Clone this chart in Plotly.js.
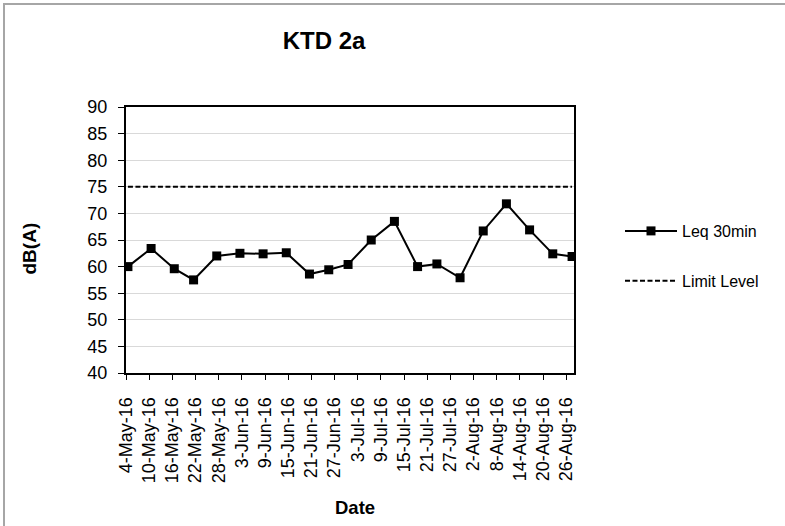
<!DOCTYPE html>
<html>
<head>
<meta charset="utf-8">
<script src="https://cdn.plot.ly/plotly-3.0.1.min.js"></script>
<style>
  html, body { margin: 0; padding: 0; background: #fff; overflow: hidden; }
  #wrap { position: relative; width: 785px; height: 526px; overflow: hidden; }
  #chart { position: absolute; left: 0; top: 0; width: 785px; height: 526px; }
  #frame { position: absolute; left: 3px; top: 3px; width: 900px; height: 700px;
           border-left: 2px solid #a6a6a6; border-top: 2px solid #a6a6a6; pointer-events: none; }
</style>
</head>
<body>
<div id="wrap">
  <div id="chart"></div>
  <div id="frame"></div>
</div>
<script>
// ---- data ----
const chartTitle = 'KTD 2a';
const xTitle = 'Date';
const yTitle = 'dB(A)';
const dates = [
  '2016-05-04', '2016-05-10', '2016-05-16', '2016-05-21', '2016-05-27',
  '2016-06-02', '2016-06-08', '2016-06-14', '2016-06-20', '2016-06-25',
  '2016-06-30', '2016-07-06', '2016-07-12', '2016-07-18', '2016-07-23',
  '2016-07-29', '2016-08-04', '2016-08-10', '2016-08-16', '2016-08-22',
  '2016-08-27'
];
const leq30min = [
  60.0, 63.4, 59.6, 57.5, 62.0,
  62.5, 62.4, 62.6, 58.6, 59.4,
  60.4, 65.0, 68.5, 60.0, 60.5,
  57.9, 66.7, 71.8, 66.9, 62.4,
  61.9
];
const limitLevel = dates.map(() => 75);
const seriesNames = ['Leq 30min', 'Limit Level'];
const xRange = ['2016-05-04', '2016-08-28'];
const xTick0 = '2016-05-04';
const yRange = [40, 90];

const FONT = 'Liberation Sans, Arial, sans-serif';
const DAY = 86400000;

const traces = [
  {
    x: dates, y: leq30min, name: seriesNames[0], type: 'scatter', mode: 'lines+markers',
    xperiod: DAY, xperiodalignment: 'middle',
    line: { color: '#000000', width: 2 },
    marker: { symbol: 'square', size: 9, color: '#000000' },
    legendgroup: 'a'
  },
  {
    x: dates, y: limitLevel, name: seriesNames[1], type: 'scatter', mode: 'lines',
    xperiod: DAY, xperiodalignment: 'middle',
    line: { color: '#000000', width: 2, dash: '5px,2.5px' },
    legendgroup: 'b'
  }
];

const layout = {
  width: 785, height: 526,
  paper_bgcolor: 'rgba(0,0,0,0)', plot_bgcolor: '#ffffff',
  margin: { l: 126, r: 211, t: 107, b: 153, pad: 0 },
  font: { family: FONT, color: '#000000', size: 16 },
  title: {
    text: '<b>' + chartTitle + '</b>',
    font: { family: FONT, size: 24, color: '#000000' },
    x: 324 / 785, xref: 'container', xanchor: 'center',
    y: 1 - 41 / 526, yref: 'container', yanchor: 'middle'
  },
  xaxis: {
    type: 'date', range: xRange, tick0: xTick0, dtick: 6 * DAY,
    tickformat: '%-d-%b-%y', tickangle: -90,
    tickfont: { family: FONT, size: 18, color: '#000000' },
    ticks: 'outside', ticklen: 5, tickwidth: 1, tickcolor: '#000000',
    ticklabelstandoff: 10,
    showgrid: false, showline: true, linecolor: '#000000', linewidth: 2, mirror: true,
    zeroline: false, fixedrange: true
  },
  yaxis: {
    range: yRange, dtick: 5, tick0: 40,
    tickfont: { family: FONT, size: 18, color: '#000000' },
    ticks: 'outside', ticklen: 6, tickwidth: 1, tickcolor: '#000000',
    ticklabelstandoff: 7,
    showgrid: true, gridcolor: '#d9d9d9', gridwidth: 1,
    showline: true, linecolor: '#000000', linewidth: 2, mirror: true,
    zeroline: false, fixedrange: true
  },
  showlegend: true,
  legend: {
    x: 620 / 785, xref: 'container', xanchor: 'left',
    y: 1 - 214 / 526, yref: 'container', yanchor: 'top',
    font: { family: FONT, size: 16, color: '#000000' },
    traceorder: 'grouped', tracegroupgap: 26,
    itemwidth: 52, bgcolor: 'rgba(0,0,0,0)'
  },
  annotations: [
    {
      text: '<b>' + yTitle + '</b>', xref: 'paper', yref: 'paper',
      x: (28.5 - 126) / (785 - 126 - 211), y: 1 - (249 - 107) / (526 - 107 - 153),
      xanchor: 'center', yanchor: 'middle', textangle: -90, showarrow: false,
      font: { family: FONT, size: 19, color: '#000000' }
    },
    {
      text: '<b>' + xTitle + '</b>', xref: 'paper', yref: 'paper',
      x: (354.5 - 126) / (785 - 126 - 211), y: 1 - (507 - 107) / (526 - 107 - 153),
      xanchor: 'center', yanchor: 'middle', showarrow: false,
      font: { family: FONT, size: 18.5, color: '#000000' }
    }
  ]
};

Plotly.newPlot('chart', traces, layout, { displayModeBar: false, staticPlot: true });
</script>
</body>
</html>
